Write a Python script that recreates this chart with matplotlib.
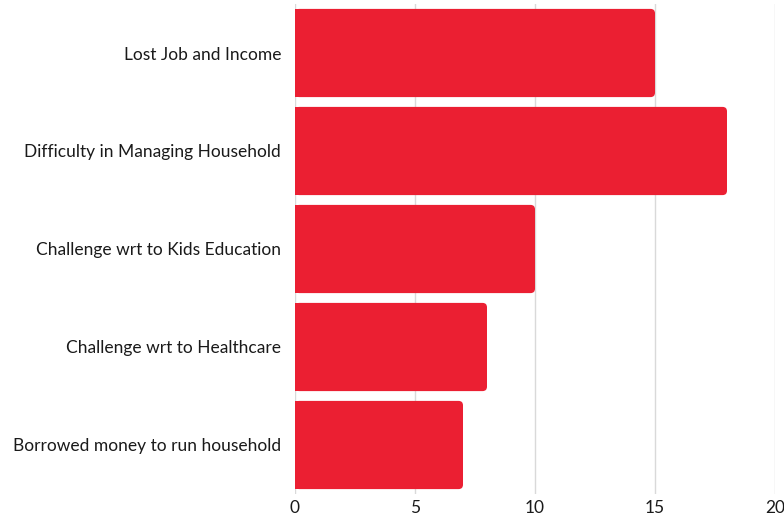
import matplotlib
matplotlib.use("Agg")
import matplotlib.pyplot as plt
from matplotlib.patches import FancyBboxPatch, Rectangle

categories = [
    "Lost Job and Income",
    "Difficulty in Managing Household",
    "Challenge wrt to Kids Education",
    "Challenge wrt to Healthcare",
    "Borrowed money to run household",
]
values = [15, 18, 10, 8, 7]
x_ticks = [0, 5, 10, 15, 20]

BAR_COLOR = "#EB1F32"
GRID_COLOR = "#D9D9D9"
TEXT_COLOR = "#1A1A1A"

plt.rcParams["font.family"] = ["Lato", "DejaVu Sans"]

W, H, DPI = 784, 516, 100
fig = plt.figure(figsize=(W / DPI, H / DPI), dpi=DPI)
ax = fig.add_axes([295 / W, 1 - 494 / H, 480 / W, 490 / H])

ypos = list(range(len(categories)))
bar_h = 0.9
bars = ax.barh(ypos, values, height=bar_h, color="none", edgecolor="none")

ax.set_xlim(0, 20)
ax.set_ylim(len(categories) - 0.5, -0.5)

# px per data unit, for rounding only the right-hand corners
px_x = 480 / 20
px_y = 490 / len(categories)
radius_px = 4.5
rx = radius_px / px_x
aspect = px_x / px_y

for rect in bars:
    x0, y0 = rect.get_x(), rect.get_y()
    w, h = rect.get_width(), rect.get_height()
    ax.add_patch(FancyBboxPatch((x0, y0), w, h,
                                boxstyle=f"round,pad=0,rounding_size={rx}",
                                mutation_aspect=aspect,
                                facecolor=BAR_COLOR, edgecolor="none", zorder=3))
    ax.add_patch(Rectangle((x0, y0), w / 2, h, facecolor=BAR_COLOR,
                           edgecolor="none", zorder=3))

ax.set_yticks(ypos)
ax.set_yticklabels(categories)
ax.set_xticks(x_ticks)
ax.set_xticklabels([str(t) for t in x_ticks])
ax.tick_params(axis="both", length=0, labelsize=12.5, colors=TEXT_COLOR)
ax.tick_params(axis="y", pad=10)
ax.tick_params(axis="x", pad=4)

ax.grid(axis="x", color=GRID_COLOR, linewidth=1.0, zorder=0)
ax.set_axisbelow(True)
for s in ax.spines.values():
    s.set_visible(False)

fig.savefig("out.png", dpi=DPI)
